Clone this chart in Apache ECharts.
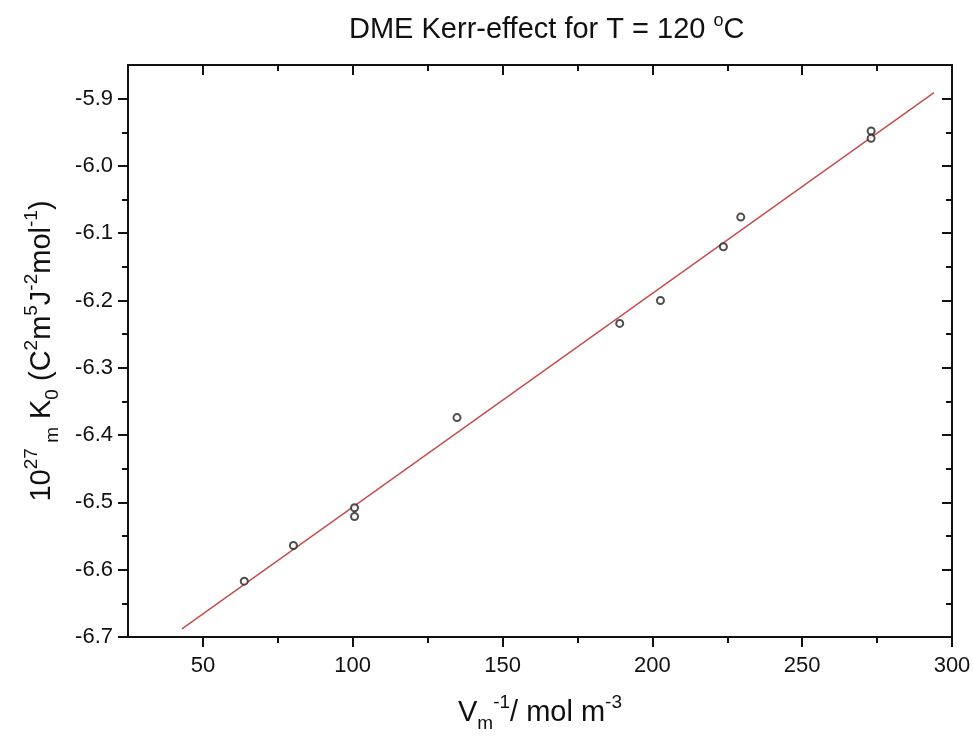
<!DOCTYPE html>
<html>
<head>
<meta charset="utf-8">
<script src="https://cdn.jsdelivr.net/npm/echarts@6/dist/echarts.min.js"></script>
<style>
  html, body { margin: 0; background: #fff; }
  #chart { width: 973px; height: 737px; }
</style>
</head>
<body>
<div id="chart"></div>
<script>
// measured points
const xValues = [63.8, 80.2, 100.6, 100.6, 134.8, 189.1, 202.7, 223.7, 229.5, 273.0, 273.0];
const yValues = [-6.617, -6.564, -6.508, -6.521, -6.374, -6.234, -6.200, -6.120, -6.076, -5.948, -5.959];

// fitted straight line, ends
const fitX = [43, 294];
const fitY = [-6.688, -5.891];

const xMajorTicks = [50, 100, 150, 200, 250, 300];
const xMinorTicks = [75, 125, 175, 225, 275];
const yMajorTicks = [-6.7, -6.6, -6.5, -6.4, -6.3, -6.2, -6.1, -6.0, -5.9];
const yMinorTicks = [-6.65, -6.55, -6.45, -6.35, -6.25, -6.15, -6.05, -5.95];

const X_MIN = 25, X_MAX = 300;
const Y_MIN = -6.7, Y_MAX = -5.85;

const chart = echarts.init(document.getElementById('chart'));

const font = 'Liberation Sans, Arial, sans-serif';
const black = '#111';

const nameRich = {
  n: { fontSize: 29, fontFamily: font, fontWeight: 'normal', color: black, lineHeight: 40 },
  sup: { fontSize: 19, fontFamily: font, fontWeight: 'normal', color: black, lineHeight: 10, verticalAlign: 'top' },
  sub: { fontSize: 19, fontFamily: font, fontWeight: 'normal', color: black, lineHeight: 9, verticalAlign: 'bottom' }
};

const titleRich = {
  n: { fontSize: 29, fontFamily: font, fontWeight: 'normal', color: black, lineHeight: 36 },
  sup: { fontSize: 18, fontFamily: font, fontWeight: 'normal', color: black, lineHeight: 18, verticalAlign: 'top' }
};

const makeX = (pos, ticks, major) => ({
  type: 'value',
  position: pos,
  min: X_MIN,
  max: X_MAX,
  splitLine: { show: false },
  axisLine: { show: major, onZero: false, lineStyle: { color: black, width: 2 } },
  axisTick: {
    show: true,
    inside: pos === 'top',
    length: major ? 10 : 6,
    customValues: ticks,
    lineStyle: { color: black, width: 2 }
  },
  axisLabel: {
    show: major && pos === 'bottom',
    customValues: ticks,
    margin: 18,
    fontSize: 22,
    fontFamily: font,
    color: black
  }
});

const makeY = (pos, ticks, major) => ({
  type: 'value',
  position: pos,
  min: Y_MIN,
  max: Y_MAX,
  splitLine: { show: false },
  axisLine: { show: major, onZero: false, lineStyle: { color: black, width: 2 } },
  axisTick: {
    show: true,
    inside: pos === 'right',
    length: major ? 10 : 6,
    customValues: ticks,
    lineStyle: { color: black, width: 2 }
  },
  axisLabel: {
    show: major && pos === 'left',
    customValues: ticks,
    margin: 15,
    fontSize: 22,
    fontFamily: font,
    color: black,
    formatter: v => v.toFixed(1)
  }
});

const xBottom = makeX('bottom', xMajorTicks, true);
xBottom.name = '{n|V}{sub|m}{sup|-1}{n|/ mol m}{sup|-3}';
xBottom.nameLocation = 'middle';
xBottom.nameGap = 56;
xBottom.nameTextStyle = { rich: nameRich };

const yLeft = makeY('left', yMajorTicks, true);
yLeft.name = '{n|10}{sup|27}{sub| m}{n| K}{sub|0}{n| (C}{sup|2}{n|m}{sup|5}{n|J}{sup|-2}{n|mol}{sup|-1}{n|)}';
yLeft.nameLocation = 'middle';
yLeft.nameGap = 66;
yLeft.nameTextStyle = { rich: nameRich };

const option = {
  backgroundColor: '#fff',
  animation: false,
  title: {
    text: '{n|DME Kerr-effect for T = 120 }{sup|o}{n|C}',
    left: 349,
    top: 12,
    padding: 0,
    textStyle: { rich: titleRich }
  },
  grid: { left: 128, right: 21, top: 65, bottom: 100, outerBoundsMode: 'none' },
  xAxis: [
    xBottom,
    makeX('bottom', xMinorTicks, false),
    makeX('top', xMajorTicks, true),
    makeX('top', xMinorTicks, false)
  ],
  yAxis: [
    yLeft,
    makeY('left', yMinorTicks, false),
    makeY('right', yMajorTicks, true),
    makeY('right', yMinorTicks, false)
  ],
  series: [
    {
      type: 'line',
      data: fitX.map((x, i) => [x, fitY[i]]),
      showSymbol: false,
      lineStyle: { color: '#c84a4a', width: 1.4 },
      z: 2
    },
    {
      type: 'scatter',
      data: xValues.map((x, i) => [x, yValues[i]]),
      symbol: 'emptyCircle',
      symbolSize: 7,
      itemStyle: { color: '#222', borderWidth: 1.3 },
      z: 3
    }
  ]
};

chart.setOption(option);
window.addEventListener('resize', () => chart.resize());
</script>
</body>
</html>
